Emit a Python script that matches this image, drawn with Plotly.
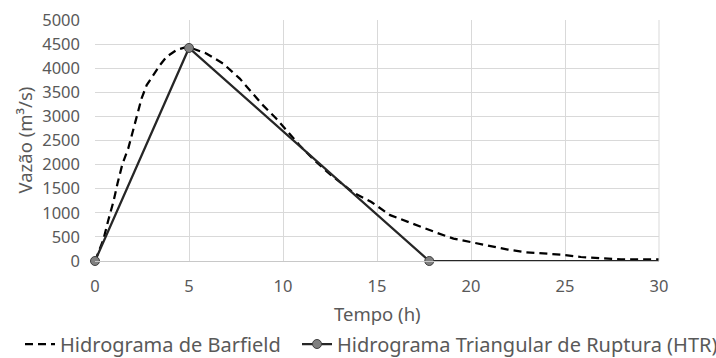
import plotly.graph_objects as go

# Hidrograma de Barfield (dashed)
barfield_t = [0, 0.44, 0.71, 0.98, 1.2, 1.45, 1.77, 1.95, 2.22, 2.48, 2.75, 3.1, 3.46, 3.81, 4.34, 4.88, 5.0,
              5.92, 6.81, 7.7, 8.3, 8.94, 9.65, 10.27, 10.89, 11.6, 12.48, 13.72, 14.7,
              15.7, 17.3, 18.2, 19.07, 19.95, 20.8, 21.96, 22.9, 23.8, 24.8, 25.85, 26.9, 27.98, 29.0, 30.0]
barfield_q = [0, 436, 851, 1230, 1612, 2000, 2338, 2614, 3029, 3375, 3651, 3859, 4066, 4239, 4378, 4440, 4435,
              4306, 4097, 3785, 3507, 3229, 2951, 2674, 2396, 2118, 1806, 1424, 1225,
              951, 708, 583, 465, 396, 326, 236, 181, 153, 132, 83, 62, 35, 35, 35]

# Hidrograma Triangular de Ruptura (HTR)
htr_t = [0, 5, 17.78, 30]
htr_q = [0, 4420, 0, 0]

x_ticks = [0, 5, 10, 15, 20, 25, 30]
y_ticks = [0, 500, 1000, 1500, 2000, 2500, 3000, 3500, 4000, 4500, 5000]

FONT = "Noto Sans"
GREY = "#595959"
W, H = 716, 358
L, R, T, B = 95, 57, 20, 97

fig = go.Figure()
fig.add_trace(go.Scatter(
    x=barfield_t, y=barfield_q, mode="lines", name="Hidrograma de Barfield",
    line=dict(color="#000000", width=2.25, dash="8px,5px"), legend="legend",
))
fig.add_trace(go.Scatter(
    x=htr_t[2:], y=htr_q[2:], mode="lines", showlegend=False, hoverinfo="skip",
    line=dict(color="#262626", width=2.25),
))
fig.add_trace(go.Scatter(
    x=htr_t[:3], y=htr_q[:3], mode="lines+markers", name="Hidrograma Triangular de Ruptura (HTR)",
    line=dict(color="#262626", width=2.25), cliponaxis=False, legend="legend2",
    marker=dict(size=9, color="#808080", line=dict(color="#404040", width=1)),
))

leg_common = dict(orientation="h", xref="container", yref="container",
                  xanchor="left", y=1 - 344 / H, yanchor="middle",
                  font=dict(family=FONT, size=20, color=GREY),
                  itemwidth=30, bgcolor="rgba(0,0,0,0)", borderwidth=0)

fig.update_layout(
    width=W, height=H,
    margin=dict(l=L, r=R, t=T, b=B),
    paper_bgcolor="white", plot_bgcolor="white",
    font=dict(family=FONT, size=16.5, color=GREY),
    showlegend=True,
    legend=dict(x=20 / W, **leg_common),
    legend2=dict(x=297 / W, **leg_common),
)
fig.update_xaxes(
    range=[0, 30], tickvals=x_ticks, ticktext=[str(v) for v in x_ticks],
    showgrid=True, gridcolor="#d9d9d9", gridwidth=1, automargin=False,
    zeroline=False, showline=True, linecolor="#c8c8c8", linewidth=1, mirror=False,
    ticks="", ticklabelstandoff=10,
    tickfont=dict(family=FONT, size=16.5, color=GREY),
)
fig.update_yaxes(
    range=[0, 5000], tickvals=y_ticks, ticktext=[str(v) for v in y_ticks],
    showgrid=True, gridcolor="#d9d9d9", gridwidth=1, automargin=False,
    zeroline=False, showline=False, ticks="", ticklabelstandoff=14,
    tickfont=dict(family=FONT, size=16.5, color=GREY),
)
fig.add_shape(type="line", xref="paper", yref="paper", x0=1, x1=1, y0=0, y1=1,
              line=dict(color="#d9d9d9", width=1))
# axis titles
fig.add_annotation(text="Tempo (h)", xref="paper", yref="paper",
                   x=0.5, y=-(313 - (H - B)) / (H - T - B), xanchor="center", yanchor="middle",
                   showarrow=False, font=dict(family=FONT, size=18.5, color=GREY))
fig.add_annotation(text="Vazão (m³/s)", xref="paper", yref="paper",
                   x=-(L - 24) / (W - L - R), y=0.5, xanchor="center", yanchor="middle",
                   textangle=-90, showarrow=False, font=dict(family=FONT, size=18.5, color=GREY))

fig.write_html("out.html", config={"displayModeBar": False},
               post_script="document.body.style.margin='0';document.body.style.overflow='hidden';")
